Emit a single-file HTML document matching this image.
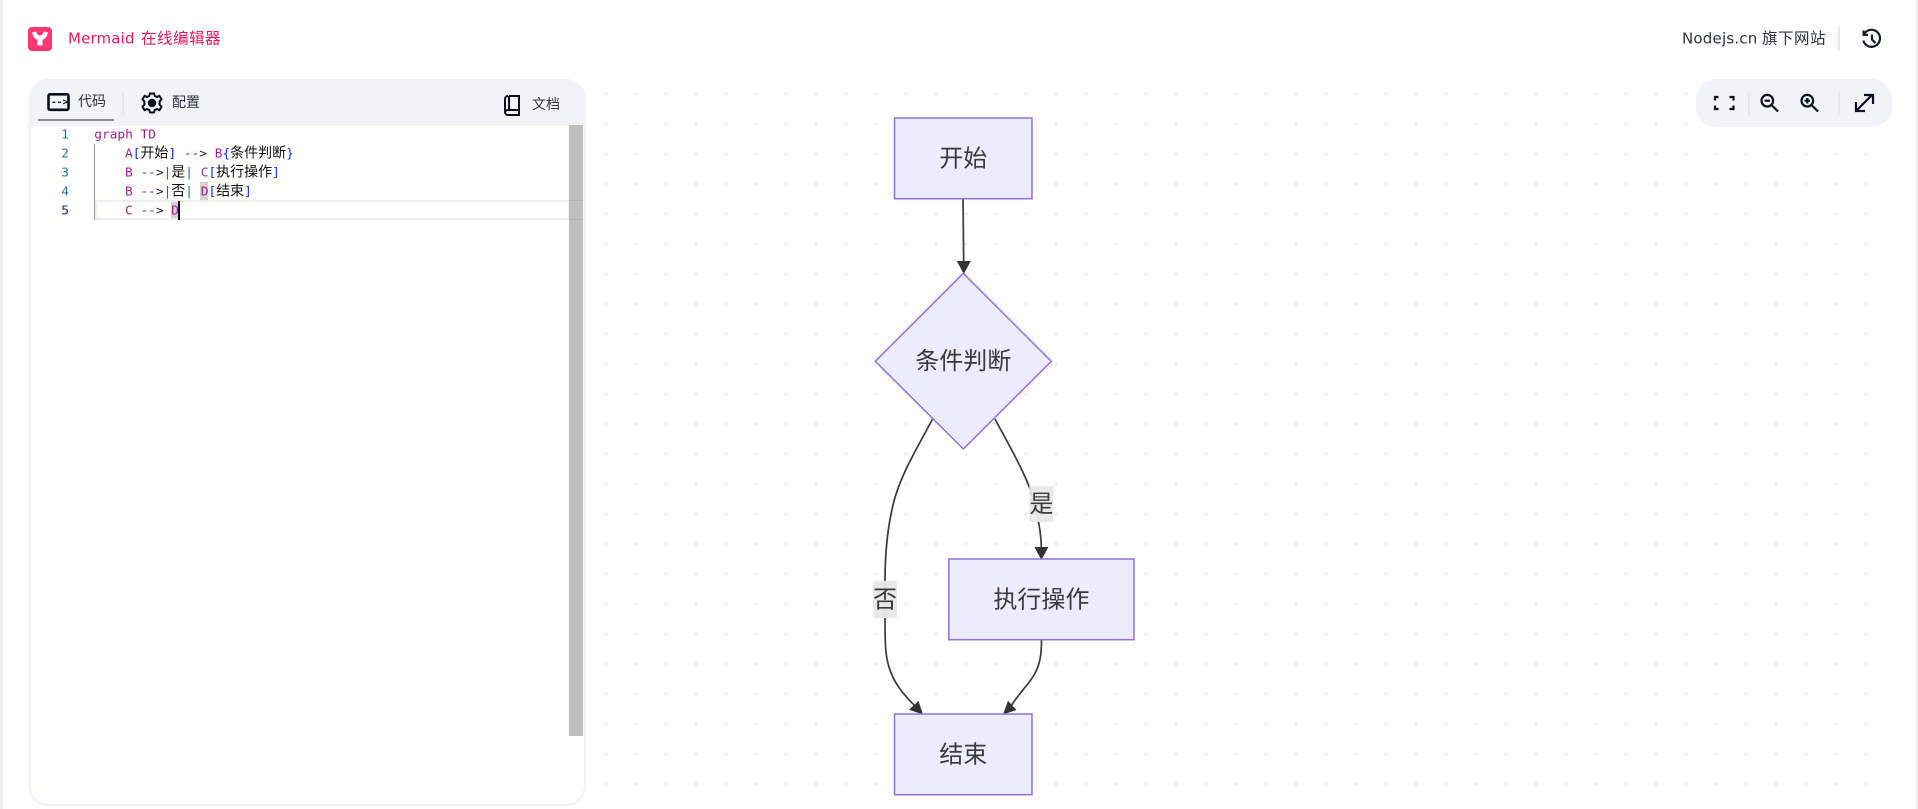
<!DOCTYPE html>
<html lang="zh"><head><meta charset="utf-8"><title>Mermaid 在线编辑器</title>
<style>
html,body{margin:0;padding:0;width:1918px;height:809px;overflow:hidden;background:#efefef}
svg{position:absolute;left:0;top:0;display:block}
.ui{font-family:"DejaVu Sans","Noto Sans CJK SC",sans-serif}
.code{font-family:"DejaVu Sans Mono","Liberation Mono",monospace;font-size:12.8px;white-space:pre}
.cjk{font-family:"WenQuanYi Zen Hei","Noto Sans CJK SC",sans-serif;font-size:14px;fill:#111}
.k{fill:#a31d96}.a{fill:#a0148c}.g{fill:#222}.b{fill:#0431fa}.p{fill:#2a63b8}
.ln{font-family:"DejaVu Sans Mono","Liberation Mono",monospace;font-size:12.8px;fill:#237893;text-anchor:end}
.n{font-family:"Noto Sans CJK SC",sans-serif;font-size:24px;fill:#3a3a3a;text-anchor:middle}
</style></head><body>
<svg width="1918" height="809" viewBox="0 0 1918 809" xmlns="http://www.w3.org/2000/svg">
<defs>
<pattern id="dots" x="591" y="79" width="30" height="30" patternUnits="userSpaceOnUse"><circle cx="15" cy="15" r="1.7" fill="#ededed"/></pattern>
</defs>
<rect x="3" y="-12" width="1913" height="840" rx="12" fill="#fff"/>
<rect x="591" y="79" width="290" height="720" fill="url(#dots)"/>
<rect x="881" y="79" width="1000" height="720" fill="url(#dots)"/>

<!-- header -->
<rect x="28" y="27" width="24" height="24" rx="4" fill="#ff3670"/>
<path d="M32 32.5 L36 31.5 C37 34 38.5 35.5 40 35.5 C41.5 35.5 43 34 44 31.5 L48 32.5 C47.2 36.5 45 39 42.6 39.8 L42.6 45.5 L37.4 45.5 L37.4 39.8 C35 39 32.8 36.5 32 32.5 Z" fill="#fff"/>
<text class="ui" x="68" y="43.5" font-size="15" letter-spacing=".15" fill="#e8175f">Mermaid</text>
<text x="141" y="43.5" font-family="Noto Sans CJK SC,sans-serif" font-size="15.5" letter-spacing=".5" fill="#e8175f">在线编辑器</text>
<text class="ui" x="1682" y="43.5" font-size="15" letter-spacing=".2" fill="#2d3340">Nodejs.cn</text>
<text x="1762" y="43.5" font-family="Noto Sans CJK SC,sans-serif" font-size="15.5" letter-spacing=".5" fill="#2d3340">旗下网站</text>
<rect x="1838" y="27" width="2" height="24" fill="#e2e8f0"/>
<g fill="none" stroke="#111827" stroke-width="2.2"><path d="M1864.5 33.5 A8.5 8.5 0 1 1 1863.3 40.5"/><path d="M1863.6 30.5 V34.8 H1868"/><path d="M1872 34.5 V39.5 L1875.5 43"/></g>

<!-- editor panel -->
<path d="M28.5 125 V99 A20 20 0 0 1 48.5 79 H566 A20 20 0 0 1 586 99 V125 Z" fill="#f1f3f7"/>
<path d="M29.5 125 H585 V786 A19 19 0 0 1 566 805 H48.5 A19 19 0 0 1 29.5 786 Z" fill="#fffffd" stroke="#f0f2f7" stroke-width="2"/>
<rect x="38" y="119" width="76" height="2" fill="#8b8b95"/>
<rect x="122" y="93" width="2" height="24" fill="#e2e8f0"/>
<g fill="none" stroke="#0b1020" stroke-width="2.6"><rect x="48.5" y="94.3" width="20" height="15.5" rx="1.5"/></g>
<text x="51" y="105" font-family="DejaVu Sans Mono,monospace" font-size="9.5" font-weight="bold" fill="#0b1020">--&gt;</text>
<text x="78" y="106" font-family="Noto Sans CJK SC,sans-serif" font-size="14" fill="#2d3340">代码</text>
<g transform="translate(152 103)" fill="none" stroke="#0b1020" stroke-width="2" stroke-linejoin="round"><circle r="3.2" fill="#0b1020"/><path d="M-2 -9.5 H2 L2.7 -7 L5 -6 L7.4 -7.2 L9.6 -3.6 L7.6 -1.8 V1.8 L9.6 3.6 L7.4 7.2 L5 6 L2.7 7 L2 9.5 H-2 L-2.7 7 L-5 6 L-7.4 7.2 L-9.6 3.6 L-7.6 1.8 V-1.8 L-9.6 -3.6 L-7.4 -7.2 L-5 -6 L-2.7 -7 Z"/></g>
<text x="172" y="107" font-family="Noto Sans CJK SC,sans-serif" font-size="14" fill="#2d3340">配置</text>
<g fill="none" stroke="#0b1020" stroke-width="2"><path d="M509 96 H519 V110 H508 A3 3 0 0 0 505 113 V99 A3 3 0 0 1 508 96"/><path d="M505 112 A3 3 0 0 0 508 115 H519 V110"/><path d="M509 96 V110"/></g>
<text x="532" y="109" font-family="Noto Sans CJK SC,sans-serif" font-size="14" fill="#2d3340">文档</text>

<!-- code -->
<rect x="94" y="144" width="1" height="76" fill="#9a9a9a"/>
<rect x="200" y="182" width="8" height="19" fill="#d3d3d3"/>
<rect x="171" y="201" width="8" height="18" fill="#d3d3d3"/>
<rect x="96" y="201" width="473" height="18" fill="none" stroke="#eeeeee" stroke-width="2"/>
<rect x="569" y="125" width="14" height="611" fill="#bfbfbc"/>
<rect x="569" y="200" width="14" height="1" fill="#b0b0ad"/>
<rect x="569" y="219" width="14" height="1" fill="#b0b0ad"/>
<text class="ln" x="69" y="138.5">1</text><text class="ln" x="69" y="157.5">2</text><text class="ln" x="69" y="176.5">3</text><text class="ln" x="69" y="195.5">4</text><text class="ln" x="69" y="214.5" style="fill:#0b216f">5</text>
<text class="code" x="94.3" y="138.5"><tspan class="k">graph TD</tspan></text>
<text class="code" x="125" y="157.5"><tspan class="k">A</tspan><tspan class="b">[</tspan><tspan class="cjk">开始</tspan><tspan class="b">]</tspan> <tspan class="a">--</tspan><tspan class="g">&gt;</tspan> <tspan class="k">B</tspan><tspan class="b">{</tspan><tspan class="cjk">条件判断</tspan><tspan class="b">}</tspan></text>
<text class="code" x="125" y="176.5"><tspan class="k">B</tspan> <tspan class="a">--</tspan><tspan class="g">&gt;</tspan><tspan class="p">|</tspan><tspan class="cjk">是</tspan><tspan class="p">|</tspan> <tspan class="k">C</tspan><tspan class="b">[</tspan><tspan class="cjk">执行操作</tspan><tspan class="b">]</tspan></text>
<text class="code" x="125" y="195.5"><tspan class="k">B</tspan> <tspan class="a">--</tspan><tspan class="g">&gt;</tspan><tspan class="p">|</tspan><tspan class="cjk">否</tspan><tspan class="p">|</tspan> <tspan class="k">D</tspan><tspan class="b">[</tspan><tspan class="cjk">结束</tspan><tspan class="b">]</tspan></text>
<text class="code" x="125" y="214.5"><tspan class="k">C</tspan> <tspan class="a">--</tspan><tspan class="g">&gt;</tspan> <tspan class="k">D</tspan></text>
<rect x="178" y="201" width="2" height="19" fill="#000"/>

<!-- toolbar -->
<rect x="1696" y="79" width="196" height="48" rx="20" fill="#f1f3f7"/>
<rect x="1748" y="91" width="2" height="24" fill="#e2e8f0"/>
<rect x="1838" y="91" width="2" height="24" fill="#e2e8f0"/>
<g fill="none" stroke="#0b1020" stroke-width="2.2">
<path d="M1715 100.500 V97 H1718.500 M1729.500 97 H1733.500 V100.500 M1733.500 105.500 V109 H1729.500 M1718.500 109 H1715 V105.500"/>
<circle cx="1767.300" cy="100.700" r="5.800"/><path d="M1771.500 105 L1778 111.500"/><path d="M1764.500 100.700 H1770"/>
<circle cx="1807.300" cy="100.700" r="5.800"/><path d="M1811.500 105 L1818 111.500"/><path d="M1804.500 100.700 H1810 M1807.300 98 V103.500"/>
<path d="M1856 111 L1872 95 M1864 95 H1873 V104 M1856 102 V111 H1865"/>
</g>

<!-- diagram edges -->
<g fill="none" stroke="#3a3a3a" stroke-width="1.7">
<path d="M963 198.700 L963.700 263"/>
<path d="M995 419 C1005 438 1026 474 1032 495 C1038 518 1041 530 1041.400 549"/>
<path d="M932.500 419 C918 447 900 475 893 505 C887 530 885 555 885 581 L885 618 C885 645 885 660 892 675 C897 687 906 697 916 707"/>
<path d="M1041.500 639.700 C1041.500 655 1040 665 1034 675 C1029 684 1020 692 1011 706"/>
</g>
<g fill="#333">
<path d="M963.800 274 L956.800 261 L970.800 261 Z"/>
<path d="M1041.400 560 L1034.400 547 L1048.400 547 Z"/>
<path d="M923 714.500 L909 709.800 L918.500 701 Z"/>
<path d="M1003 714.500 L1016.500 710 L1008 700.800 Z"/>
</g>
<!-- nodes -->
<g fill="#ececff" stroke="#9370db" stroke-width="1.5">
<rect x="894.500" y="118" width="137.500" height="80.700"/>
<path d="M963.300 273.300 L1051.300 361.300 L963.300 449 L875.300 361.300 Z"/>
<rect x="948.800" y="559" width="185.200" height="80.700"/>
<rect x="894.500" y="714" width="137.500" height="80.700"/>
</g>
<rect x="1029.300" y="486" width="24" height="36" fill="#e8e8e8" fill-opacity=".95"/>
<rect x="873" y="581" width="24" height="37" fill="#e8e8e8" fill-opacity=".95"/>
<text class="n" x="963.300" y="166.500">开始</text>
<text class="n" x="963.300" y="369">条件判断</text>
<text class="n" x="1041.400" y="512">是</text>
<text class="n" x="885" y="607.500">否</text>
<text class="n" x="1041.400" y="607.500">执行操作</text>
<text class="n" x="963.300" y="762.500">结束</text>
</svg>
</body></html>
